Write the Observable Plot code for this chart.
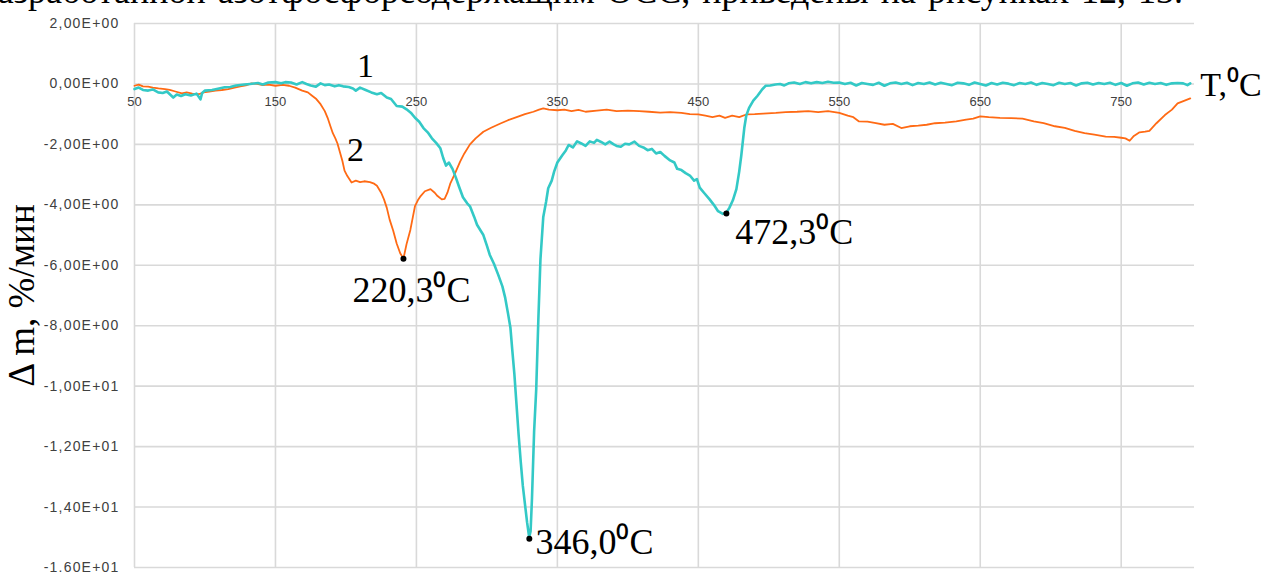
<!DOCTYPE html>
<html>
<head>
<meta charset="utf-8">
<script src="https://cdn.jsdelivr.net/npm/d3@7"></script>
<script src="https://cdn.jsdelivr.net/npm/@observablehq/plot@0.6"></script>
<style>
  html, body { margin: 0; padding: 0; background: #fff; overflow: hidden; }
  #wrap { position: relative; width: 1267px; height: 572px; overflow: hidden; }
  #toptext { position: absolute; right: 84px; top: -23px; white-space: nowrap; word-spacing: 3px;
    font-family: "Liberation Serif", "Times New Roman", serif; font-size: 36px; line-height: 28px; color: #000; }
  #chart { position: absolute; left: 0; top: 0; }
  #chart g[aria-label="y-axis tick label"] text { letter-spacing: 1.2px; }
</style>
</head>
<body>
<div id="wrap">
  <div id="chart"></div>
  <div id="toptext">разработанной азотфосфорсодержащим ОСС, приведены на рисунках 12, 13.</div>
</div>
<script>
// X axis tick values (°C) and Y axis ticks with their labels
const xTicks = [50, 150, 250, 350, 450, 550, 650, 750];
const yTicks = [2, 0, -2, -4, -6, -8, -10, -12, -14, -16];
const yTickLabels = ["2,00E+00", "0,00E+00", "-2,00E+00", "-4,00E+00", "-6,00E+00", "-8,00E+00",
  "-1,00E+01", "-1,20E+01", "-1,40E+01", "-1,60E+01"];

// Series 1 (teal): temperature, Δm
const s1T = [50,53,56,59.7,63,66.8,70,73,77.5,80,83,86,90,94,96.8,98,100,105,110,114,118,122,128,132,137.6,141,145,150,154,157,161,165,169,172,175,178.7,182,185,188,192,195,198,202,205,207,210,214,218,222,225,229,232,236,240,243,246,249,252,255,258,261,264,267,269,271,273,275.6,278,280,283,286,288,291,293,295.5,297.5,300,302,305,308,311,313,315,316.7,318,319.5,321,322.5,324,325.5,327,328.5,330,331,332,333.5,335,336.5,338,340,342,343.5,346,347.7,350,353.5,356,358,361,364,367,370,373,376,378,381,384,387,390,392,395,398,401,404.7,408,411,414,417,420,423,426,430,433,435,438,441,444,447,449,451,454,458,461,464,467.4,470,472,474.5,477,479,480.5,482.6,484,486,489,492,495,497.7,501,504.7,508,511,514,518,522,526,530,534,538,542,546,550,554,558,562,566,570,574,578,582,586,590,594,598,602,606,610,614,618,622,626,630,634,638,642,646,650,654,658,662,666,670,674,678,682,686,690,694,698,702,706,710,714,718,722,726,730,734,738,742,746,750,754,758,762,766,770,774,778,782,786,790,794,797,799];
const s1V = [-0.17,-0.12,-0.2,-0.22,-0.18,-0.28,-0.3,-0.25,-0.45,-0.35,-0.4,-0.34,-0.38,-0.32,-0.51,-0.3,-0.22,-0.2,-0.15,-0.11,-0.1,-0.05,-0.02,0.0,0.03,-0.02,0.05,0.06,0.02,0.06,0.05,-0.02,0.06,0.0,-0.05,-0.09,0.02,-0.04,-0.02,-0.08,-0.04,-0.08,-0.1,-0.15,-0.22,-0.12,-0.2,-0.28,-0.34,-0.3,-0.45,-0.5,-0.73,-0.75,-0.84,-0.95,-1.12,-1.25,-1.46,-1.6,-1.8,-1.95,-2.13,-2.45,-2.7,-2.6,-2.81,-3.1,-3.37,-3.75,-3.95,-4.05,-4.4,-4.66,-4.85,-5.0,-5.35,-5.65,-5.95,-6.31,-6.7,-7.08,-7.6,-8.07,-8.8,-9.6,-10.6,-11.6,-12.5,-13.3,-13.9,-14.5,-15.0,-14.8,-13.7,-11.5,-10.1,-7.8,-5.8,-4.4,-3.9,-3.45,-3.2,-2.9,-2.6,-2.36,-2.2,-2.02,-2.1,-1.9,-1.97,-2.05,-1.9,-1.95,-1.85,-1.92,-2.0,-1.91,-2.0,-2.05,-2.08,-1.98,-2.0,-1.91,-2.05,-2.1,-2.19,-2.15,-2.3,-2.25,-2.38,-2.53,-2.6,-2.81,-2.85,-2.95,-3.03,-3.2,-3.15,-3.43,-3.6,-3.82,-4.0,-4.21,-4.3,-4.25,-4.1,-3.85,-3.48,-2.9,-2.36,-1.46,-1.05,-0.79,-0.55,-0.39,-0.2,-0.06,-0.05,-0.02,0.0,-0.05,0.02,0.05,0.0,0.06,0.02,0.06,0.03,0.07,0.04,0.05,0.0,0.04,-0.05,0.03,0.0,-0.03,0.04,-0.06,0.02,0.05,0.0,0.04,-0.04,0.03,0.0,0.05,-0.02,0.04,0.0,-0.04,0.04,0.02,-0.03,0.05,0.0,-0.05,0.03,-0.02,0.04,0.01,-0.04,0.03,0.0,0.05,-0.03,0.03,0.0,-0.04,0.04,0.0,0.03,-0.05,0.02,0.04,-0.02,0.03,0.0,0.04,-0.03,0.03,-0.06,0.02,0.05,-0.02,0.04,0.0,0.03,-0.03,0.02,0.03,0.02,-0.04,0.02];

// Series 2 (orange): temperature, Δm
const s2T = [50,53,56,59.7,63,67,71.6,75,79,83.6,87,91,95.6,99,103,107.5,112,116.5,121,125,129,133,137,141,145,150,155,159.6,164,169,173,176,179,182,185,187,189,190.7,192.5,194,196,197.5,199,201,204,207,210,213,217,220,222,225,227,229,231,233.5,236,238.5,240.8,243,245.7,247.5,249,251,253,256,260,263,265,268,270,272,274,277,281,284,288,292,297.5,303,309.6,315,321.6,327,333,337,340,344,350,355,360,365,370,378,385,392,400,408,415,423,430,438,444,450,455,460,465,469,474,479,484,490,496,505,512,520,528,535,542,550,556,560,564,570,576,582,588,594,600,606,612,618,625,633,640,645,650,656,664,672,680,688,695,703,710,717,724,731,739,745,750,753,756,759,763,767,770,775,781,786,790,795,799];
const s2V = [-0.06,-0.02,-0.08,-0.09,-0.12,-0.15,-0.17,-0.2,-0.25,-0.31,-0.28,-0.32,-0.34,-0.28,-0.25,-0.22,-0.2,-0.17,-0.12,-0.08,-0.05,0.02,0.0,-0.04,-0.02,-0.06,-0.03,-0.06,-0.12,-0.22,-0.28,-0.39,-0.5,-0.67,-0.9,-1.12,-1.4,-1.63,-1.8,-1.97,-2.3,-2.55,-2.87,-3.05,-3.26,-3.2,-3.25,-3.22,-3.25,-3.3,-3.37,-3.6,-3.82,-4.1,-4.49,-4.85,-5.28,-5.6,-5.78,-5.3,-4.83,-4.4,-4.04,-3.85,-3.71,-3.55,-3.48,-3.6,-3.71,-3.82,-3.8,-3.6,-3.3,-3.0,-2.57,-2.3,-2.0,-1.8,-1.58,-1.45,-1.31,-1.2,-1.09,-1.0,-0.92,-0.85,-0.81,-0.85,-0.87,-0.85,-0.9,-0.86,-0.92,-0.88,-0.85,-0.9,-0.88,-0.9,-0.92,-0.95,-0.93,-0.96,-1.0,-1.01,-1.05,-1.1,-1.05,-1.12,-1.05,-1.1,-1.01,-1.0,-0.98,-0.96,-0.93,-0.92,-0.9,-0.93,-0.9,-0.96,-1.05,-1.1,-1.24,-1.25,-1.3,-1.35,-1.32,-1.46,-1.4,-1.38,-1.35,-1.3,-1.28,-1.24,-1.18,-1.15,-1.07,-1.1,-1.12,-1.13,-1.15,-1.24,-1.3,-1.4,-1.45,-1.55,-1.63,-1.68,-1.74,-1.75,-1.78,-1.8,-1.88,-1.72,-1.6,-1.58,-1.55,-1.3,-1.03,-0.85,-0.64,-0.55,-0.48];

// Peak points and their labels
const peakT = [240.8, 330.1, 469.9];
const peakV = [-5.78, -15.05, -4.29];
const peakLabels = ["220,3⁰C", "346,0⁰C", "472,3⁰C"];
// where each peak label sits (data units)
const labelT = [204.6, 334.4, 476.2];
const labelV = [-6.84, -15.18, -4.92];

const series1 = s1T.map((t, i) => ({t, v: s1V[i]}));
const series2 = s2T.map((t, i) => ({t, v: s2V[i]}));
const peaks = peakT.map((t, i) => ({t, v: peakV[i], label: peakLabels[i], lt: labelT[i], lv: labelV[i]}));

const TEAL = "#33C9C6";
const ORANGE = "#FF6A14";
const GRID = "#D9D9D9";
const SERIF = "Liberation Serif, Times New Roman, serif";

const chart = Plot.plot({
  width: 1267,
  height: 572,
  marginLeft: 134,
  marginRight: 73,
  marginTop: 23,
  marginBottom: 5,
  style: {background: "transparent", overflow: "visible", fontFamily: "Liberation Sans, Arial, sans-serif"},
  x: {domain: [50, 802], axis: null},
  y: {domain: [-16, 2]},
  marks: [
    Plot.gridY(yTicks, {stroke: GRID, strokeOpacity: 1, strokeWidth: 1.6}),
    Plot.gridX(xTicks, {stroke: GRID, strokeOpacity: 1, strokeWidth: 1.6}),
    Plot.axisY(yTicks, {tickSize: 0, tickPadding: 15, label: null, fontSize: 14,
      fill: "#404040", tickFormat: d => yTickLabels[yTicks.indexOf(d)]}),
    Plot.text(xTicks, {x: d => d, y: 0, dy: 18, text: d => String(d), fontSize: 13, fill: "#404040"}),
    Plot.line(series2, {x: "t", y: "v", stroke: ORANGE, strokeWidth: 1.8}),
    Plot.line(series1, {x: "t", y: "v", stroke: TEAL, strokeWidth: 2.6}),
    Plot.dot(peaks, {x: "t", y: "v", r: 3, fill: "#000", stroke: "none"}),
    Plot.text(peaks, {x: "lt", y: "lv", text: "label", textAnchor: "start", fontFamily: SERIF, fontSize: 36, fill: "#000"}),
    Plot.text(["1"], {x: 213.8, y: 0.6, text: d => d, fontFamily: SERIF, fontSize: 34, fill: "#000"}),
    Plot.text(["2"], {x: 206.7, y: -2.19, text: d => d, fontFamily: SERIF, fontSize: 34, fill: "#000"}),
    Plot.text(["T,⁰C"], {x: 806, y: -0.03, text: d => d, textAnchor: "start", fontFamily: SERIF, fontSize: 34, fill: "#000"}),
    Plot.text(["Δ m, %/мин"], {frameAnchor: "left", textAnchor: "middle", dx: -112, rotate: -90, text: d => d, fontFamily: SERIF, fontSize: 37, fill: "#000"})
  ]
});
document.getElementById("chart").appendChild(chart);
</script>
</body>
</html>
